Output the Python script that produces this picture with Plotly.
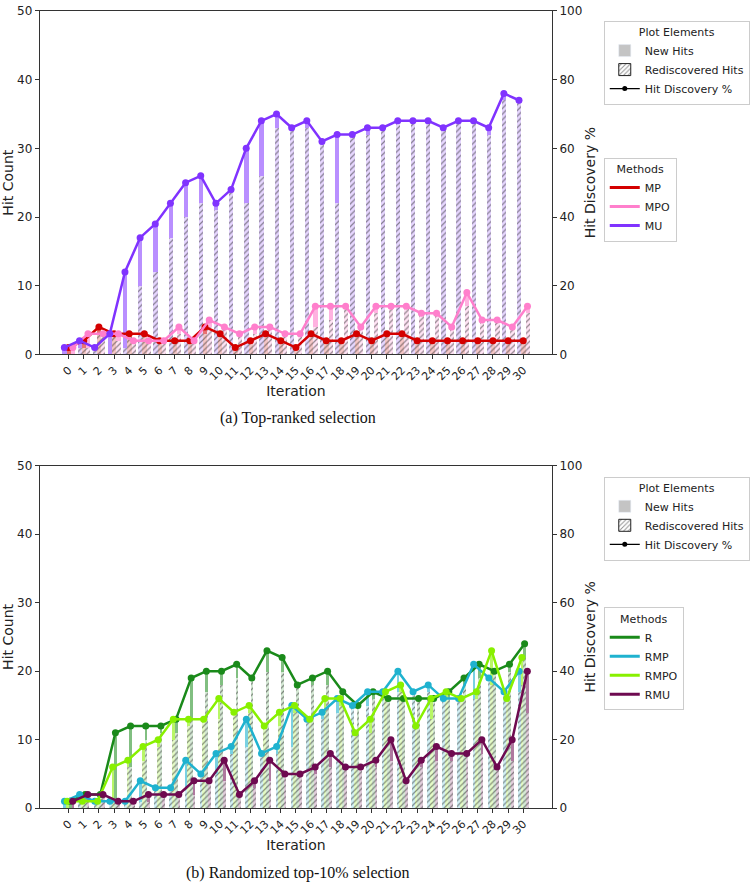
import numpy as np
import plotly.graph_objects as go
from plotly.subplots import make_subplots

iterations = list(range(31))
tick_labels = [str(i) for i in iterations]
pool_size = 50  # hit count corresponding to 100 %

# ---------- (a) Top-ranked selection ----------
mp_total = [1,2,4,3,3,3,2,2,2,4,3,1,2,3,2,1,3,2,2,3,2,3,3,2,2,2,2,2,2,2,2]
mp_new   = [1,1,1,0,0,0,0,0,0,1,0,0,0,0,0,0,0,0,0,0,0,0,0,0,0,0,0,0,0,0,0]
mpo_total = [1,3,3,3,2,2,2,4,2,5,4,3,4,4,3,3,7,7,7,4,7,7,7,6,6,4,9,5,5,4,7]
mpo_new   = [1,2,0,1,0,0,0,1,0,1,0,0,1,0,0,0,3,2,0,0,1,0,0,0,0,0,2,0,0,0,1]
mu_total = [1,2,1,3,12,17,19,22,25,26,22,24,30,34,35,33,34,31,32,32,33,33,34,34,34,33,34,34,33,38,37]
mu_new   = [1,1,0,3,11,7,7,5,5,4,1,0,8,8,2,0,1,0,10,0,1,0,0,0,0,0,0,0,1,1,0]

# ---------- (b) Randomized top-10% selection ----------
r_total = [1,2,2,11,12,12,12,13,19,20,20,21,19,23,22,18,19,20,17,15,17,16,16,16,16,17,19,21,20,21,24]
r_new   = [1,1,0,10,6,2,1,2,6,3,2,2,0,3,2,0,1,2,1,0,1,0,0,0,0,1,1,2,0,1,2]
rmp_total = [1,2,1,1,1,4,3,3,7,5,8,9,13,8,9,15,13,14,16,15,17,17,20,17,18,16,16,21,19,17,20]
rmp_new   = [1,1,0,0,0,3,0,0,4,0,3,1,4,0,1,6,0,1,2,0,2,0,3,0,1,0,0,5,0,0,3]
rmpo_total = [1,1,1,6,7,9,10,13,13,13,16,14,15,12,14,15,13,16,16,11,13,17,18,12,16,17,16,17,23,16,22]
rmpo_new   = [1,0,0,5,1,2,1,3,1,0,3,0,1,0,2,1,0,2,1,0,2,1,1,0,3,1,0,1,5,0,4]
rmu_total = [1,2,2,1,1,2,2,2,4,4,7,2,4,7,5,5,6,8,6,6,7,10,4,7,9,8,8,10,6,10,20]
rmu_new   = [1,1,0,0,0,1,0,0,2,0,3,0,1,3,0,0,1,2,0,0,1,3,0,1,2,1,0,2,0,3,6]

# method name, colour (line), colour (new hits bar), tint (rediscovered bar), slot, totals, new
top_methods = [
    ("MP",  "#d40000", "rgba(212,0,0,0.55)",   "rgba(212,0,0,0.22)",   0, mp_total,  mp_new),
    ("MPO", "#ff7fcc", "rgba(255,127,204,0.6)", "rgba(255,127,204,0.22)", 1, mpo_total, mpo_new),
    ("MU",  "#8033ff", "rgba(128,51,255,0.55)", "rgba(128,51,255,0.2)",  -1, mu_total,  mu_new),
]
bot_methods = [
    ("R",    "#1a8a1a", "rgba(26,138,26,0.55)",  "rgba(26,138,26,0.18)",   0.5, r_total,    r_new),
    ("RMP",  "#1fb2cf", "rgba(31,178,207,0.6)",  "rgba(31,178,207,0.2)",  -1.5, rmp_total,  rmp_new),
    ("RMPO", "#88f000", "rgba(136,240,0,0.6)",   "rgba(136,240,0,0.22)",  -0.5, rmpo_total, rmpo_new),
    ("RMU",  "#6e0a50", "rgba(110,10,80,0.55)",  "rgba(110,10,80,0.2)",    1.5, rmu_total,  rmu_new),
]

fig = make_subplots(rows=2, cols=1, specs=[[{"secondary_y": True}], [{"secondary_y": True}]])

def add_panel(methods, row, bw, legend_el, legend_m):
    x0 = np.array(iterations, dtype=float)
    for name, col, solid, tint, slot, tot, new in methods:
        tot = np.array(tot); new = np.array(new)
        red = tot - new
        xs = x0 + slot * bw
        fig.add_trace(go.Bar(x=xs, y=red, base=0, width=bw, showlegend=False,
                             marker=dict(color=tint, line=dict(width=0),
                                         pattern=dict(shape="/", fgcolor="#222222", fillmode="overlay",
                                                      size=4, solidity=0.3)),
                             hoverinfo="skip"), row=row, col=1, secondary_y=False)
        fig.add_trace(go.Bar(x=xs, y=new, base=red, width=bw, showlegend=False,
                             marker=dict(color=solid, line=dict(width=0)),
                             hoverinfo="skip"), row=row, col=1, secondary_y=False)
    for name, col, solid, tint, slot, tot, new in methods:
        xs = x0 + slot * bw
        pct = np.array(tot) / pool_size * 100
        fig.add_trace(go.Scatter(x=xs, y=pct, mode="lines+markers", showlegend=False,
                                 line=dict(color=col, width=2.5), marker=dict(color=col, size=7)),
                      row=row, col=1, secondary_y=True)
    fig.add_trace(go.Bar(x=[None], y=[None], name="New Hits", legend=legend_el,
                         marker=dict(color="#c4c4c4")), row=row, col=1)
    fig.add_trace(go.Bar(x=[None], y=[None], name="Rediscovered Hits", legend=legend_el,
                         marker=dict(color="white", line=dict(color="#222", width=1),
                                     pattern=dict(shape="/", fgcolor="#222", fillmode="overlay",
                                                  size=4, solidity=0.3))), row=row, col=1)
    fig.add_trace(go.Scatter(x=[None], y=[None], name="Hit Discovery %", legend=legend_el,
                             mode="lines+markers", line=dict(color="black", width=1.2),
                             marker=dict(color="black", size=5)), row=row, col=1)
    for name, col, *_ in methods:
        fig.add_trace(go.Scatter(x=[None], y=[None], name=name, legend=legend_m, mode="lines",
                                 line=dict(color=col, width=3)), row=row, col=1)

add_panel(top_methods, 1, 0.28, "legend", "legend2")
add_panel(bot_methods, 2, 0.18, "legend3", "legend4")

W, H = 750, 891
def ydom(top_px, bot_px):
    return [1 - bot_px / H, 1 - top_px / H]

axis_common = dict(showline=True, linecolor="#333333", linewidth=1, ticks="outside", ticklen=4,
                   tickcolor="#333333", showgrid=False, zeroline=False,
                   tickfont=dict(size=12, color="#222"))

xcommon = dict(axis_common, tickmode="array", tickvals=iterations, ticktext=tick_labels,
               tickangle=-45, range=[-1.9, 31.9], mirror=True,
               tickfont=dict(size=11, color="#222"),
               title=dict(text="Iteration", font=dict(size=14, color="#222"), standoff=0))
fig.update_layout(
    xaxis=dict(xcommon, domain=[40 / W, 555 / W], anchor="y"),
    xaxis2=dict(xcommon, domain=[40 / W, 555 / W], anchor="y3"),
    yaxis=dict(axis_common, domain=ydom(4, 353), range=[0, 50], dtick=10,
               title=dict(text="Hit Count", font=dict(size=14, color="#222"), standoff=6)),
    yaxis2=dict(axis_common, range=[0, 100], dtick=20, side="right", overlaying="y",
                title=dict(text="Hit Discovery %", font=dict(size=14, color="#222"), standoff=3)),
    yaxis3=dict(axis_common, domain=ydom(466, 814), range=[0, 50], dtick=10,
                title=dict(text="Hit Count", font=dict(size=14, color="#222"), standoff=6)),
    yaxis4=dict(axis_common, range=[0, 100], dtick=20, side="right", overlaying="y3",
                title=dict(text="Hit Discovery %", font=dict(size=14, color="#222"), standoff=3)),
)

leg_common = dict(xanchor="left", yanchor="top", bgcolor="white", bordercolor="#cccccc",
                  borderwidth=1, font=dict(family="DejaVu Sans", size=11, color="#222"),
                  tracegroupgap=0)
fig.update_layout(
    legend=dict(leg_common, x=607 / W, y=1 - 14 / H,
                title=dict(text="Plot Elements", side="top center", font=dict(size=11))),
    legend2=dict(leg_common, x=607 / W, y=1 - 153 / H,
                 title=dict(text="Methods", side="top center", font=dict(size=11))),
    legend3=dict(leg_common, x=607 / W, y=1 - 477 / H,
                 title=dict(text="Plot Elements", side="top center", font=dict(size=11))),
    legend4=dict(leg_common, x=607 / W, y=1 - 610 / H,
                 title=dict(text="Methods", side="top center", font=dict(size=11))),
)

fig.add_annotation(text="(a) Top-ranked selection", x=300 / W, y=1 - 418 / H, xref="paper", yref="paper",
                   xanchor="center", yanchor="middle", showarrow=False,
                   font=dict(family="Liberation Serif", size=16, color="#111"))
fig.add_annotation(text="(b) Randomized top-10% selection", x=300 / W, y=1 - 880 / H, xref="paper",
                   yref="paper", xanchor="center", yanchor="middle", showarrow=False,
                   font=dict(family="Liberation Serif", size=16, color="#111"))

fig.update_layout(width=W, height=H, margin=dict(l=0, r=0, t=0, b=0), barmode="overlay",
                  plot_bgcolor="white", paper_bgcolor="white",
                  font=dict(family="DejaVu Sans", color="#222"), bargap=0)

fig.write_html("out.html")
